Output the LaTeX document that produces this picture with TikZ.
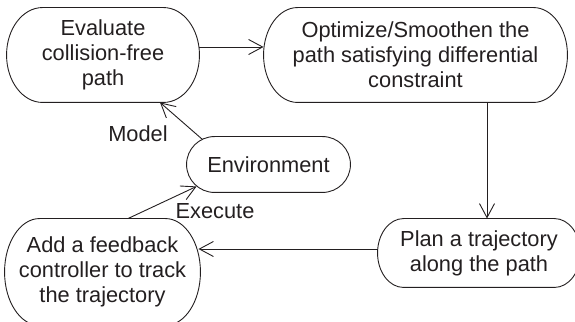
\documentclass[tikz,border=0pt]{standalone}
\usepackage{fontspec}
\setmainfont{Liberation Sans}
\usetikzlibrary{arrows.meta,calc}
\definecolor{ink}{HTML}{231F20}

% Outline of a node as a capsule: straight top and bottom, half-ellipse ends
\newcommand\capsule[2]{%
  \draw let \p1=(#1.north west), \p2=(#1.south east), \n1={(\y1-\y2)/2} in
    (\x1+#2pt,\y1) -- (\x2-#2pt,\y1)
    arc[start angle=90,end angle=-90,x radius=#2pt,y radius=\n1]
    -- (\x1+#2pt,\y2)
    arc[start angle=270,end angle=90,x radius=#2pt,y radius=\n1] -- cycle;}

\begin{document}
\begin{tikzpicture}[x=1pt,y=1pt,line width=0.9pt,draw=ink,
  box/.style={draw=none,inner sep=0pt,align=center,text=ink,
    font=\fontsize{21.8}{25}\selectfont},
  lbl/.style={inner sep=0pt,text=ink,font=\fontsize{21.8}{25}\selectfont},
  flow/.style={-{Straight Barb[length=14pt,width=15pt]}}]
\useasboundingbox (0,0) rectangle (575,321);

\node[box,minimum width=192pt,minimum height=94pt] (ev) at (103,266)
  {Evaluate\\collision-free\\path};
\node[box,minimum width=303pt,minimum height=94pt] (op) at (415.5,266)
  {Optimize/Smoothen the\\path satisfying differential\\constraint};
\node[box,minimum width=163pt,minimum height=55pt] (env) at (268.5,156.5)
  {Environment};
\node[box,minimum width=202pt,minimum height=68pt] (plan) at (479,68)
  {Plan a trajectory\\along the path};
\node[box,minimum width=195pt,minimum height=106pt] (add) at (102.5,49)
  {Add a feedback\\controller to track\\the trajectory};

\capsule{ev}{36}
\capsule{op}{34}
\capsule{env}{28}
\capsule{plan}{26}
\capsule{add}{35}

\coordinate (evR) at ($(ev.east)+(0,8)$);
\coordinate (opL) at ($(op.west)+(0,8)$);
\coordinate (opB) at ($(op.south)+(71.5,0)$);
\coordinate (planT) at ($(plan.north)+(8,0)$);
\coordinate (planL) at ($(plan.west)+(0,4)$);
\coordinate (addR) at ($(add.east)+(-2,23)$);
\coordinate (addT) at ($(add.north)+(25.5,0)$);
\coordinate (envSW) at ($(env.south west)+(10,6)$);
\coordinate (envNW) at ($(env.north west)+(16,-3)$);
\coordinate (evB) at ($(ev.south)+(57,0)$);

\draw[flow] (evR) -- (opL);
\draw[flow] (opB) -- (planT);
\draw[flow] (planL) -- (addR);
\draw[flow] (addT) -- (envSW);
\draw[flow] (envNW) -- (evB);

\node[lbl] (model) at (138,187) {Model};
\node[lbl] (exec) at (215,110) {Execute};
\end{tikzpicture}
\end{document}
